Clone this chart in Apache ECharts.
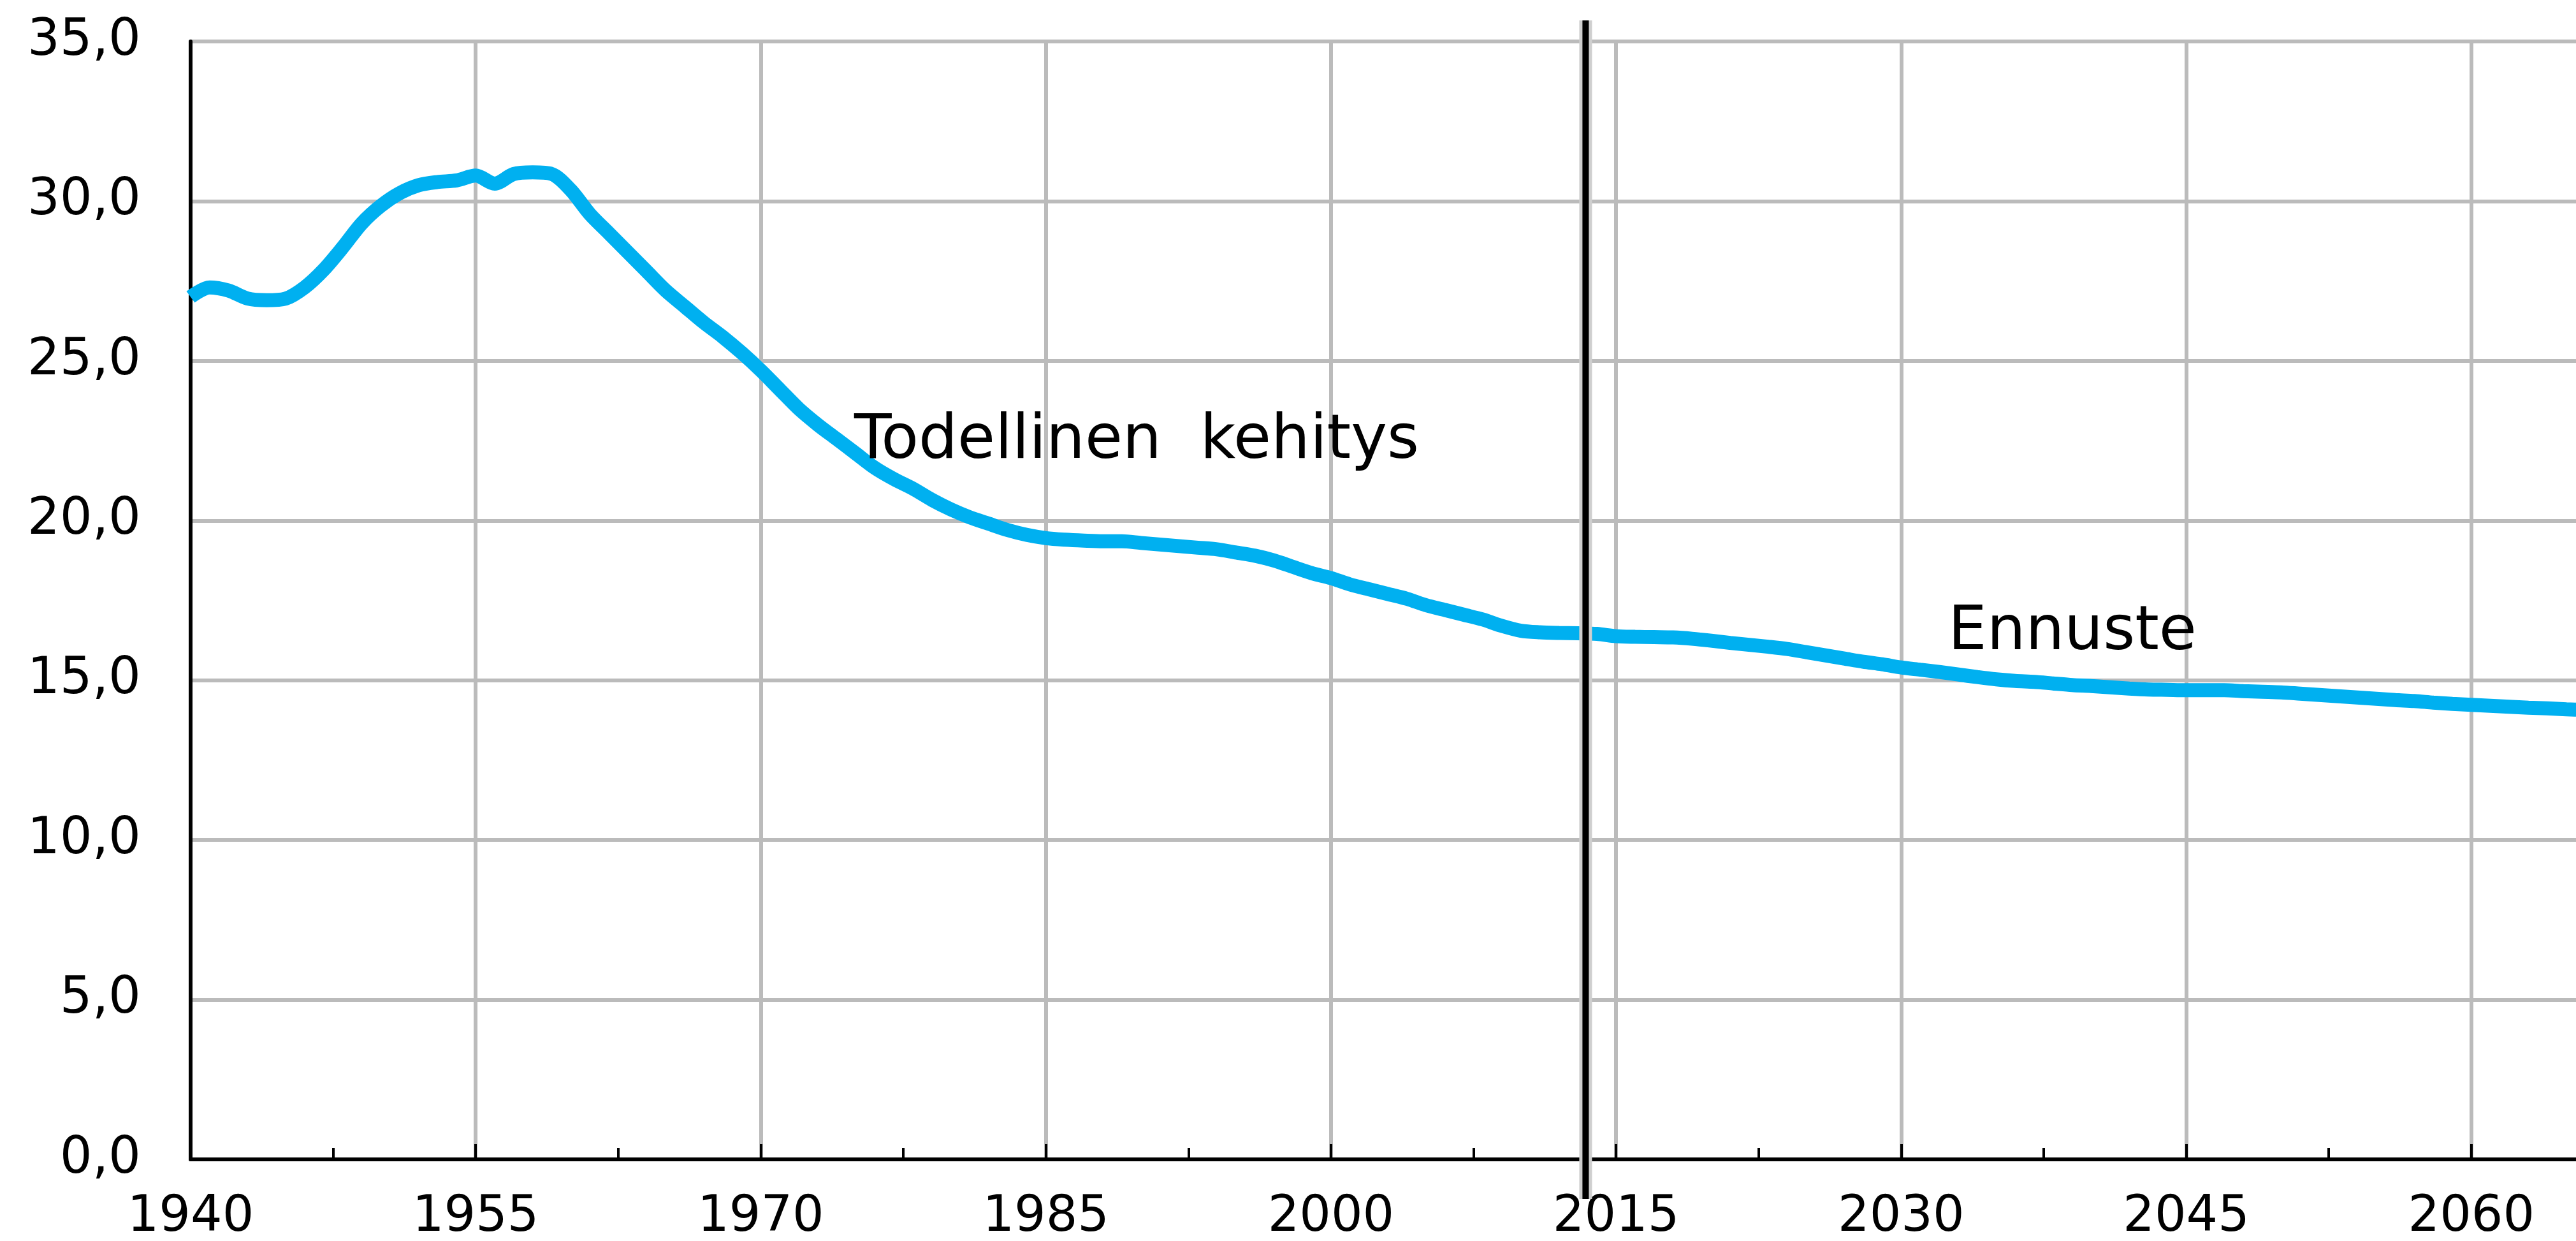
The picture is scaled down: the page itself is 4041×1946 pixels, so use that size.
<!DOCTYPE html>
<html>
<head>
<meta charset="utf-8">
<script src="https://cdn.jsdelivr.net/npm/echarts@6/dist/echarts.min.js"></script>
<style>
  html, body { margin: 0; padding: 0; background: #fff; overflow: hidden; }
  #chart { width: 4041px; height: 1946px; }
</style>
</head>
<body>
<div id="chart"></div>
<script>
  // vuodet ja arvot (luettu kuvasta)
  var years = [];
  for (var y = 1940; y <= 2066; y++) years.push(y);
  var values = [
    27.0, 27.3, 27.2, 26.95, 26.9, 26.95, 27.3, 27.85, 28.55, 29.3,
    29.85, 30.25, 30.5, 30.6, 30.65, 30.8, 30.55, 30.85, 30.9, 30.85,
    30.35, 29.6, 29.0, 28.4, 27.8, 27.2, 26.7, 26.2, 25.75, 25.25,
    24.7, 24.1, 23.5, 23.0, 22.55, 22.1, 21.65, 21.3, 21.0, 20.65,
    20.35, 20.1, 19.9, 19.7, 19.55, 19.45, 19.4, 19.37, 19.35, 19.35,
    19.3, 19.25, 19.2, 19.15, 19.1, 19.0, 18.9, 18.75, 18.55, 18.35,
    18.2, 18.0, 17.85, 17.7, 17.55, 17.35, 17.2, 17.05, 16.9, 16.7,
    16.55, 16.5, 16.48, 16.47, 16.45, 16.38, 16.36, 16.35, 16.34, 16.3,
    16.24, 16.17, 16.11, 16.05, 15.98, 15.88, 15.78, 15.68, 15.58, 15.5,
    15.4, 15.33, 15.26, 15.18, 15.1, 15.03, 14.98, 14.95, 14.9, 14.85,
    14.82, 14.78, 14.74, 14.71, 14.7, 14.69, 14.69, 14.69, 14.66, 14.64,
    14.62, 14.58, 14.54, 14.5, 14.46, 14.42, 14.38, 14.35, 14.3, 14.26,
    14.23, 14.2, 14.17, 14.14, 14.12, 14.09, 14.07
  ];
  var forecastStart = 2013.4;   // pystyviiva: toteutunut / ennuste
  var labelActual = 'Todellinen  kehitys';
  var labelForecast = 'Ennuste';

  var seriesData = [];
  for (var i = 0; i < years.length; i++) seriesData.push([years[i], values[i]]);

  var font = 'DejaVu Sans';
  var myChart = echarts.init(document.getElementById('chart'));
  var option = {
    animation: false,
    backgroundColor: '#ffffff',
    grid: {
      left: 299,
      top: 65,
      bottom: 128,
      right: -283,            // akseli jatkuu kuvan reunan yli (2075 asti)
      outerBoundsMode: 'none',
      containLabel: false
    },
    xAxis: {
      type: 'value',
      min: 1940,
      max: 2075,
      interval: 15,
      axisLine: { show: true, onZero: false, lineStyle: { color: '#000', width: 6 } },
      axisTick: { show: true, inside: true, length: 24, lineStyle: { color: '#000', width: 4 } },
      minorTick: { show: true, splitNumber: 2, length: 18, lineStyle: { color: '#000', width: 4 } },
      splitLine: { show: true, lineStyle: { color: '#bbbbbb', width: 6 } },
      axisLabel: {
        show: true,
        margin: 53,
        fontFamily: font,
        fontSize: 78,
        color: '#000',
        showMaxLabel: false,
        formatter: function (v) { return String(v); }
      }
    },
    yAxis: {
      type: 'value',
      min: 0,
      max: 35,
      interval: 5,
      axisLine: { show: true, lineStyle: { color: '#000', width: 6 } },
      axisTick: { show: false },
      splitLine: { show: true, lineStyle: { color: '#bbbbbb', width: 6 } },
      axisLabel: {
        margin: 78,
        fontFamily: font,
        fontSize: 80,
        color: '#000',
        formatter: function (v) { return v.toFixed(1).replace('.', ','); }
      }
    },
    series: [{
      type: 'line',
      data: seriesData,
      showSymbol: false,
      smooth: 0.3,
      lineStyle: { color: '#00b0f0', width: 22 },
      itemStyle: { color: '#00b0f0' },
      z: 3
    }]
  };
  myChart.setOption(option);

  // pystyviiva ja tekstit
  var lineX = myChart.convertToPixel({ xAxisIndex: 0 }, forecastStart);
  myChart.setOption({
    graphic: [
      {
        type: 'line', z: 50,
        shape: { x1: lineX, y1: 32, x2: lineX, y2: 1880 },
        style: { stroke: '#cfcfcf', lineWidth: 20 }
      },
      {
        type: 'line', z: 51,
        shape: { x1: lineX, y1: 32, x2: lineX, y2: 1880 },
        style: { stroke: '#000', lineWidth: 10 }
      },
      {
        type: 'text', z: 60, left: 1340, top: 645,
        style: { text: labelActual, font: '96px "DejaVu Sans"', fill: '#000' }
      },
      {
        type: 'text', z: 60, left: 3056, top: 945,
        style: { text: labelForecast, font: '96px "DejaVu Sans"', fill: '#000' }
      }
    ]
  });
</script>
</body>
</html>
